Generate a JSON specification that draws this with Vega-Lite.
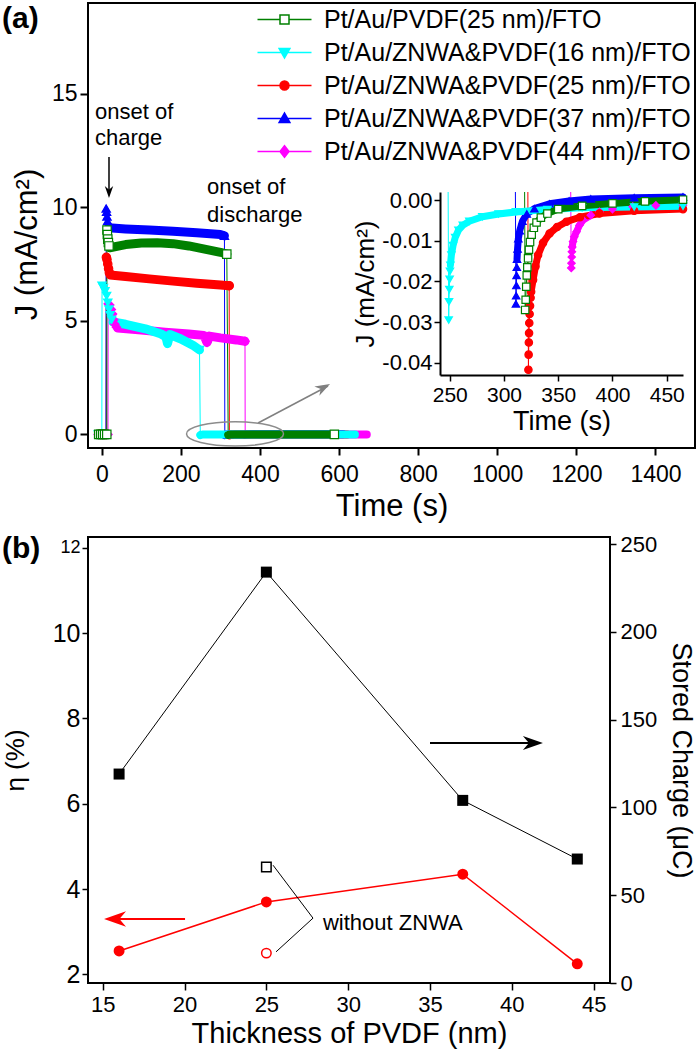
{
"$schema": "https://vega.github.io/schema/vega-lite/v6.json",
"background": "white",
"padding": {"left": 0, "top": 2, "right": 0, "bottom": 2},
"spacing": 89,
"bounds": "flush",
"resolve": {"scale": {"stroke": "independent", "fill": "independent"}, "legend": {"stroke": "independent", "fill": "independent"}},
"datasets": {
"main": [
{"s":"Pt/Au/ZNWA&PVDF(44 nm)/FTO","t":-9,"J":0,"b":0,"m":1},{"s":"Pt/Au/ZNWA&PVDF(44 nm)/FTO","t":-4,"J":0,"b":0,"m":1},{"s":"Pt/Au/ZNWA&PVDF(44 nm)/FTO","t":1,"J":0,"b":0,"m":1},{"s":"Pt/Au/ZNWA&PVDF(44 nm)/FTO","t":6,"J":0,"b":0,"m":1},{"s":"Pt/Au/ZNWA&PVDF(44 nm)/FTO","t":11,"J":0,"b":0,"m":1},{"s":"Pt/Au/ZNWA&PVDF(44 nm)/FTO","t":15.5,"J":0,"b":0,"m":1},
{"s":"Pt/Au/ZNWA&PVDF(44 nm)/FTO","t":16,"J":5.75,"b":0,"m":1},{"s":"Pt/Au/ZNWA&PVDF(44 nm)/FTO","t":20,"J":5.7,"b":0,"m":1},{"s":"Pt/Au/ZNWA&PVDF(44 nm)/FTO","t":24,"J":5.5,"b":0,"m":1},{"s":"Pt/Au/ZNWA&PVDF(44 nm)/FTO","t":27,"J":5.3,"b":0,"m":1},{"s":"Pt/Au/ZNWA&PVDF(44 nm)/FTO","t":30,"J":5.05,"b":0,"m":1},{"s":"Pt/Au/ZNWA&PVDF(44 nm)/FTO","t":33,"J":4.85,"b":0,"m":1},{"s":"Pt/Au/ZNWA&PVDF(44 nm)/FTO","t":37,"J":4.72,"b":0,"m":1},
{"s":"Pt/Au/ZNWA&PVDF(44 nm)/FTO","t":40,"J":4.68,"b":1,"m":0},{"s":"Pt/Au/ZNWA&PVDF(44 nm)/FTO","t":100,"J":4.6,"b":1,"m":0},{"s":"Pt/Au/ZNWA&PVDF(44 nm)/FTO","t":160,"J":4.5,"b":1,"m":0},{"s":"Pt/Au/ZNWA&PVDF(44 nm)/FTO","t":220,"J":4.42,"b":1,"m":0},{"s":"Pt/Au/ZNWA&PVDF(44 nm)/FTO","t":258,"J":4.36,"b":1,"m":0},{"s":"Pt/Au/ZNWA&PVDF(44 nm)/FTO","t":266,"J":4.05,"b":1,"m":1},{"s":"Pt/Au/ZNWA&PVDF(44 nm)/FTO","t":272,"J":4.33,"b":1,"m":0},{"s":"Pt/Au/ZNWA&PVDF(44 nm)/FTO","t":300,"J":4.25,"b":1,"m":0},{"s":"Pt/Au/ZNWA&PVDF(44 nm)/FTO","t":340,"J":4.16,"b":1,"m":0},{"s":"Pt/Au/ZNWA&PVDF(44 nm)/FTO","t":362,"J":4.1,"b":1,"m":1},
{"s":"Pt/Au/ZNWA&PVDF(44 nm)/FTO","t":362.5,"J":-0.0167,"b":0,"m":0},
{"s":"Pt/Au/ZNWA&PVDF(25 nm)/FTO","t":-7,"J":0,"b":0,"m":1},{"s":"Pt/Au/ZNWA&PVDF(25 nm)/FTO","t":-2,"J":0,"b":0,"m":1},{"s":"Pt/Au/ZNWA&PVDF(25 nm)/FTO","t":3,"J":0,"b":0,"m":1},{"s":"Pt/Au/ZNWA&PVDF(25 nm)/FTO","t":8,"J":0,"b":0,"m":1},{"s":"Pt/Au/ZNWA&PVDF(25 nm)/FTO","t":11,"J":0,"b":0,"m":1},
{"s":"Pt/Au/ZNWA&PVDF(25 nm)/FTO","t":11.5,"J":7.8,"b":0,"m":1},{"s":"Pt/Au/ZNWA&PVDF(25 nm)/FTO","t":13,"J":7.7,"b":0,"m":1},{"s":"Pt/Au/ZNWA&PVDF(25 nm)/FTO","t":15,"J":7.5,"b":0,"m":1},{"s":"Pt/Au/ZNWA&PVDF(25 nm)/FTO","t":17,"J":7.3,"b":0,"m":1},{"s":"Pt/Au/ZNWA&PVDF(25 nm)/FTO","t":19,"J":7.12,"b":0,"m":1},
{"s":"Pt/Au/ZNWA&PVDF(25 nm)/FTO","t":21,"J":7.02,"b":1,"m":0},{"s":"Pt/Au/ZNWA&PVDF(25 nm)/FTO","t":60,"J":6.95,"b":1,"m":0},{"s":"Pt/Au/ZNWA&PVDF(25 nm)/FTO","t":120,"J":6.85,"b":1,"m":0},{"s":"Pt/Au/ZNWA&PVDF(25 nm)/FTO","t":180,"J":6.75,"b":1,"m":0},{"s":"Pt/Au/ZNWA&PVDF(25 nm)/FTO","t":240,"J":6.66,"b":1,"m":0},{"s":"Pt/Au/ZNWA&PVDF(25 nm)/FTO","t":300,"J":6.58,"b":1,"m":0},{"s":"Pt/Au/ZNWA&PVDF(25 nm)/FTO","t":322,"J":6.55,"b":1,"m":1},
{"s":"Pt/Au/ZNWA&PVDF(25 nm)/FTO","t":322.5,"J":-0.0417,"b":0,"m":0},
{"s":"Pt/Au/ZNWA&PVDF(37 nm)/FTO","t":-6,"J":0,"b":0,"m":1},{"s":"Pt/Au/ZNWA&PVDF(37 nm)/FTO","t":-1,"J":0,"b":0,"m":1},{"s":"Pt/Au/ZNWA&PVDF(37 nm)/FTO","t":4,"J":0,"b":0,"m":1},{"s":"Pt/Au/ZNWA&PVDF(37 nm)/FTO","t":9,"J":0,"b":0,"m":1},{"s":"Pt/Au/ZNWA&PVDF(37 nm)/FTO","t":10.5,"J":0,"b":0,"m":1},
{"s":"Pt/Au/ZNWA&PVDF(37 nm)/FTO","t":11,"J":9.95,"b":0,"m":1},{"s":"Pt/Au/ZNWA&PVDF(37 nm)/FTO","t":12,"J":9.8,"b":0,"m":1},{"s":"Pt/Au/ZNWA&PVDF(37 nm)/FTO","t":13,"J":9.6,"b":0,"m":1},{"s":"Pt/Au/ZNWA&PVDF(37 nm)/FTO","t":14.5,"J":9.4,"b":0,"m":1},{"s":"Pt/Au/ZNWA&PVDF(37 nm)/FTO","t":16,"J":9.2,"b":0,"m":1},
{"s":"Pt/Au/ZNWA&PVDF(37 nm)/FTO","t":18,"J":9.1,"b":1,"m":0},{"s":"Pt/Au/ZNWA&PVDF(37 nm)/FTO","t":60,"J":9.05,"b":1,"m":0},{"s":"Pt/Au/ZNWA&PVDF(37 nm)/FTO","t":120,"J":9.0,"b":1,"m":0},{"s":"Pt/Au/ZNWA&PVDF(37 nm)/FTO","t":180,"J":8.95,"b":1,"m":0},{"s":"Pt/Au/ZNWA&PVDF(37 nm)/FTO","t":240,"J":8.88,"b":1,"m":0},{"s":"Pt/Au/ZNWA&PVDF(37 nm)/FTO","t":300,"J":8.8,"b":1,"m":0},{"s":"Pt/Au/ZNWA&PVDF(37 nm)/FTO","t":310,"J":8.75,"b":1,"m":1},
{"s":"Pt/Au/ZNWA&PVDF(37 nm)/FTO","t":311,"J":-0.0255,"b":0,"m":0},
{"s":"Pt/Au/ZNWA&PVDF(16 nm)/FTO","t":-9,"J":0,"b":0,"m":1},{"s":"Pt/Au/ZNWA&PVDF(16 nm)/FTO","t":-5,"J":0,"b":0,"m":1},{"s":"Pt/Au/ZNWA&PVDF(16 nm)/FTO","t":-1,"J":0,"b":0,"m":1},{"s":"Pt/Au/ZNWA&PVDF(16 nm)/FTO","t":0,"J":0,"b":0,"m":1},
{"s":"Pt/Au/ZNWA&PVDF(16 nm)/FTO","t":0.5,"J":6.55,"b":0,"m":1},{"s":"Pt/Au/ZNWA&PVDF(16 nm)/FTO","t":4,"J":6.45,"b":0,"m":1},{"s":"Pt/Au/ZNWA&PVDF(16 nm)/FTO","t":8,"J":6.3,"b":0,"m":1},{"s":"Pt/Au/ZNWA&PVDF(16 nm)/FTO","t":12,"J":6.1,"b":0,"m":1},{"s":"Pt/Au/ZNWA&PVDF(16 nm)/FTO","t":15,"J":5.8,"b":0,"m":1},{"s":"Pt/Au/ZNWA&PVDF(16 nm)/FTO","t":18,"J":5.5,"b":0,"m":1},{"s":"Pt/Au/ZNWA&PVDF(16 nm)/FTO","t":21,"J":5.25,"b":0,"m":1},{"s":"Pt/Au/ZNWA&PVDF(16 nm)/FTO","t":25,"J":5.05,"b":0,"m":1},
{"s":"Pt/Au/ZNWA&PVDF(16 nm)/FTO","t":28,"J":4.95,"b":1,"m":0},{"s":"Pt/Au/ZNWA&PVDF(16 nm)/FTO","t":60,"J":4.85,"b":1,"m":0},{"s":"Pt/Au/ZNWA&PVDF(16 nm)/FTO","t":110,"J":4.65,"b":1,"m":0},{"s":"Pt/Au/ZNWA&PVDF(16 nm)/FTO","t":150,"J":4.42,"b":1,"m":0},{"s":"Pt/Au/ZNWA&PVDF(16 nm)/FTO","t":162,"J":4.3,"b":1,"m":0},{"s":"Pt/Au/ZNWA&PVDF(16 nm)/FTO","t":166,"J":4.0,"b":1,"m":1},{"s":"Pt/Au/ZNWA&PVDF(16 nm)/FTO","t":172,"J":4.4,"b":1,"m":0},{"s":"Pt/Au/ZNWA&PVDF(16 nm)/FTO","t":200,"J":4.2,"b":1,"m":0},{"s":"Pt/Au/ZNWA&PVDF(16 nm)/FTO","t":230,"J":3.93,"b":1,"m":0},{"s":"Pt/Au/ZNWA&PVDF(16 nm)/FTO","t":247,"J":3.72,"b":1,"m":1},
{"s":"Pt/Au/ZNWA&PVDF(16 nm)/FTO","t":249,"J":-0.0295,"b":0,"m":0},
{"s":"Pt/Au/PVDF(25 nm)/FTO","t":-8,"J":0,"b":0,"m":1},{"s":"Pt/Au/PVDF(25 nm)/FTO","t":-3,"J":0,"b":0,"m":1},{"s":"Pt/Au/PVDF(25 nm)/FTO","t":2,"J":0,"b":0,"m":1},{"s":"Pt/Au/PVDF(25 nm)/FTO","t":7,"J":0,"b":0,"m":1},{"s":"Pt/Au/PVDF(25 nm)/FTO","t":12.5,"J":0,"b":0,"m":1},
{"s":"Pt/Au/PVDF(25 nm)/FTO","t":13,"J":9.0,"b":0,"m":1},{"s":"Pt/Au/PVDF(25 nm)/FTO","t":14,"J":8.8,"b":0,"m":1},{"s":"Pt/Au/PVDF(25 nm)/FTO","t":15,"J":8.6,"b":0,"m":1},{"s":"Pt/Au/PVDF(25 nm)/FTO","t":16.5,"J":8.45,"b":0,"m":1},{"s":"Pt/Au/PVDF(25 nm)/FTO","t":18,"J":8.3,"b":0,"m":1},
{"s":"Pt/Au/PVDF(25 nm)/FTO","t":20,"J":8.22,"b":1,"m":0},{"s":"Pt/Au/PVDF(25 nm)/FTO","t":60,"J":8.36,"b":1,"m":0},{"s":"Pt/Au/PVDF(25 nm)/FTO","t":100,"J":8.43,"b":1,"m":0},{"s":"Pt/Au/PVDF(25 nm)/FTO","t":140,"J":8.44,"b":1,"m":0},{"s":"Pt/Au/PVDF(25 nm)/FTO","t":180,"J":8.4,"b":1,"m":0},{"s":"Pt/Au/PVDF(25 nm)/FTO","t":220,"J":8.3,"b":1,"m":0},{"s":"Pt/Au/PVDF(25 nm)/FTO","t":260,"J":8.16,"b":1,"m":0},{"s":"Pt/Au/PVDF(25 nm)/FTO","t":300,"J":8.02,"b":1,"m":0},{"s":"Pt/Au/PVDF(25 nm)/FTO","t":316,"J":7.94,"b":1,"m":1},
{"s":"Pt/Au/PVDF(25 nm)/FTO","t":319.5,"J":-0.027,"b":0,"m":0},{"s":"Pt/Au/PVDF(25 nm)/FTO","t":588,"J":0,"b":0,"m":1}
],
"disc": [
{"s":"Pt/Au/ZNWA&PVDF(44 nm)/FTO","t":361.5,"J":0.002,"p":0},{"s":"Pt/Au/ZNWA&PVDF(44 nm)/FTO","t":362,"J":-0.0167,"p":1},{"s":"Pt/Au/ZNWA&PVDF(44 nm)/FTO","t":362.2,"J":-0.0155,"p":1},{"s":"Pt/Au/ZNWA&PVDF(44 nm)/FTO","t":362.4,"J":-0.014,"p":1},{"s":"Pt/Au/ZNWA&PVDF(44 nm)/FTO","t":362.6,"J":-0.0127,"p":1},
{"s":"Pt/Au/ZNWA&PVDF(44 nm)/FTO","t":362.9,"J":-0.0115,"p":2},{"s":"Pt/Au/ZNWA&PVDF(44 nm)/FTO","t":363.6,"J":-0.0102,"p":2},{"s":"Pt/Au/ZNWA&PVDF(44 nm)/FTO","t":364.8,"J":-0.009,"p":2},{"s":"Pt/Au/ZNWA&PVDF(44 nm)/FTO","t":366.8,"J":-0.0078,"p":2},{"s":"Pt/Au/ZNWA&PVDF(44 nm)/FTO","t":369.5,"J":-0.0062,"p":2},{"s":"Pt/Au/ZNWA&PVDF(44 nm)/FTO","t":372.9,"J":-0.0049,"p":2},{"s":"Pt/Au/ZNWA&PVDF(44 nm)/FTO","t":380,"J":-0.0037,"p":2},{"s":"Pt/Au/ZNWA&PVDF(44 nm)/FTO","t":388,"J":-0.0029,"p":2},{"s":"Pt/Au/ZNWA&PVDF(44 nm)/FTO","t":400,"J":-0.0022,"p":2},{"s":"Pt/Au/ZNWA&PVDF(44 nm)/FTO","t":418.7,"J":-0.0016,"p":2},{"s":"Pt/Au/ZNWA&PVDF(44 nm)/FTO","t":440,"J":-0.0013,"p":2},{"s":"Pt/Au/ZNWA&PVDF(44 nm)/FTO","t":465,"J":-0.0012,"p":2},{"s":"Pt/Au/ZNWA&PVDF(44 nm)/FTO","t":670,"J":-0.0008,"p":2},
{"s":"Pt/Au/ZNWA&PVDF(25 nm)/FTO","t":322,"J":0.002,"p":0},{"s":"Pt/Au/ZNWA&PVDF(25 nm)/FTO","t":322.5,"J":-0.0417,"p":1},{"s":"Pt/Au/ZNWA&PVDF(25 nm)/FTO","t":322.7,"J":-0.038,"p":1},{"s":"Pt/Au/ZNWA&PVDF(25 nm)/FTO","t":322.9,"J":-0.035,"p":1},{"s":"Pt/Au/ZNWA&PVDF(25 nm)/FTO","t":323.1,"J":-0.0327,"p":1},{"s":"Pt/Au/ZNWA&PVDF(25 nm)/FTO","t":323.3,"J":-0.0302,"p":1},{"s":"Pt/Au/ZNWA&PVDF(25 nm)/FTO","t":323.6,"J":-0.028,"p":1},{"s":"Pt/Au/ZNWA&PVDF(25 nm)/FTO","t":324,"J":-0.026,"p":1},{"s":"Pt/Au/ZNWA&PVDF(25 nm)/FTO","t":324.5,"J":-0.024,"p":1},
{"s":"Pt/Au/ZNWA&PVDF(25 nm)/FTO","t":325,"J":-0.0225,"p":2},{"s":"Pt/Au/ZNWA&PVDF(25 nm)/FTO","t":326.8,"J":-0.0196,"p":2},{"s":"Pt/Au/ZNWA&PVDF(25 nm)/FTO","t":329,"J":-0.0163,"p":2},{"s":"Pt/Au/ZNWA&PVDF(25 nm)/FTO","t":331.4,"J":-0.0135,"p":2},{"s":"Pt/Au/ZNWA&PVDF(25 nm)/FTO","t":336,"J":-0.0105,"p":2},{"s":"Pt/Au/ZNWA&PVDF(25 nm)/FTO","t":342,"J":-0.0082,"p":2},{"s":"Pt/Au/ZNWA&PVDF(25 nm)/FTO","t":349,"J":-0.0066,"p":2},{"s":"Pt/Au/ZNWA&PVDF(25 nm)/FTO","t":357.5,"J":-0.0053,"p":2},{"s":"Pt/Au/ZNWA&PVDF(25 nm)/FTO","t":370,"J":-0.0042,"p":2},{"s":"Pt/Au/ZNWA&PVDF(25 nm)/FTO","t":388,"J":-0.0033,"p":2},{"s":"Pt/Au/ZNWA&PVDF(25 nm)/FTO","t":420,"J":-0.0026,"p":2},{"s":"Pt/Au/ZNWA&PVDF(25 nm)/FTO","t":465,"J":-0.0022,"p":2},{"s":"Pt/Au/ZNWA&PVDF(25 nm)/FTO","t":620,"J":-0.0015,"p":2},
{"s":"Pt/Au/ZNWA&PVDF(37 nm)/FTO","t":310.5,"J":0.002,"p":0},{"s":"Pt/Au/ZNWA&PVDF(37 nm)/FTO","t":311,"J":-0.0255,"p":1},{"s":"Pt/Au/ZNWA&PVDF(37 nm)/FTO","t":311.2,"J":-0.0235,"p":1},{"s":"Pt/Au/ZNWA&PVDF(37 nm)/FTO","t":311.4,"J":-0.021,"p":1},{"s":"Pt/Au/ZNWA&PVDF(37 nm)/FTO","t":311.6,"J":-0.0185,"p":1},{"s":"Pt/Au/ZNWA&PVDF(37 nm)/FTO","t":311.8,"J":-0.0165,"p":1},
{"s":"Pt/Au/ZNWA&PVDF(37 nm)/FTO","t":312,"J":-0.0145,"p":2},{"s":"Pt/Au/ZNWA&PVDF(37 nm)/FTO","t":312.5,"J":-0.012,"p":2},{"s":"Pt/Au/ZNWA&PVDF(37 nm)/FTO","t":313.2,"J":-0.0095,"p":2},{"s":"Pt/Au/ZNWA&PVDF(37 nm)/FTO","t":314.5,"J":-0.0075,"p":2},{"s":"Pt/Au/ZNWA&PVDF(37 nm)/FTO","t":317,"J":-0.0052,"p":2},{"s":"Pt/Au/ZNWA&PVDF(37 nm)/FTO","t":321,"J":-0.0034,"p":2},{"s":"Pt/Au/ZNWA&PVDF(37 nm)/FTO","t":328,"J":-0.0021,"p":2},{"s":"Pt/Au/ZNWA&PVDF(37 nm)/FTO","t":342,"J":-0.0009,"p":2},{"s":"Pt/Au/ZNWA&PVDF(37 nm)/FTO","t":360,"J":-0.0002,"p":2},{"s":"Pt/Au/ZNWA&PVDF(37 nm)/FTO","t":380,"J":0.0003,"p":2},{"s":"Pt/Au/ZNWA&PVDF(37 nm)/FTO","t":420,"J":0.0006,"p":2},{"s":"Pt/Au/ZNWA&PVDF(37 nm)/FTO","t":465,"J":0.0008,"p":2},{"s":"Pt/Au/ZNWA&PVDF(37 nm)/FTO","t":610,"J":0.0008,"p":2},
{"s":"Pt/Au/ZNWA&PVDF(16 nm)/FTO","t":248.5,"J":0.002,"p":0},{"s":"Pt/Au/ZNWA&PVDF(16 nm)/FTO","t":249,"J":-0.0295,"p":1},{"s":"Pt/Au/ZNWA&PVDF(16 nm)/FTO","t":249.3,"J":-0.025,"p":1},{"s":"Pt/Au/ZNWA&PVDF(16 nm)/FTO","t":249.6,"J":-0.022,"p":1},{"s":"Pt/Au/ZNWA&PVDF(16 nm)/FTO","t":249.9,"J":-0.0195,"p":1},{"s":"Pt/Au/ZNWA&PVDF(16 nm)/FTO","t":250.2,"J":-0.0175,"p":1},
{"s":"Pt/Au/ZNWA&PVDF(16 nm)/FTO","t":250.6,"J":-0.016,"p":2},{"s":"Pt/Au/ZNWA&PVDF(16 nm)/FTO","t":251.5,"J":-0.0135,"p":2},{"s":"Pt/Au/ZNWA&PVDF(16 nm)/FTO","t":253,"J":-0.0112,"p":2},{"s":"Pt/Au/ZNWA&PVDF(16 nm)/FTO","t":255,"J":-0.0092,"p":2},{"s":"Pt/Au/ZNWA&PVDF(16 nm)/FTO","t":258,"J":-0.0074,"p":2},{"s":"Pt/Au/ZNWA&PVDF(16 nm)/FTO","t":262,"J":-0.0062,"p":2},{"s":"Pt/Au/ZNWA&PVDF(16 nm)/FTO","t":268,"J":-0.0052,"p":2},{"s":"Pt/Au/ZNWA&PVDF(16 nm)/FTO","t":280,"J":-0.0041,"p":2},{"s":"Pt/Au/ZNWA&PVDF(16 nm)/FTO","t":295,"J":-0.0034,"p":2},{"s":"Pt/Au/ZNWA&PVDF(16 nm)/FTO","t":311,"J":-0.0029,"p":2},{"s":"Pt/Au/ZNWA&PVDF(16 nm)/FTO","t":340,"J":-0.0023,"p":2},{"s":"Pt/Au/ZNWA&PVDF(16 nm)/FTO","t":372,"J":-0.0019,"p":2},{"s":"Pt/Au/ZNWA&PVDF(16 nm)/FTO","t":420,"J":-0.0017,"p":2},{"s":"Pt/Au/ZNWA&PVDF(16 nm)/FTO","t":465,"J":-0.0015,"p":2},{"s":"Pt/Au/ZNWA&PVDF(16 nm)/FTO","t":640,"J":-0.001,"p":2},
{"s":"Pt/Au/PVDF(25 nm)/FTO","t":319,"J":0.002,"p":0},{"s":"Pt/Au/PVDF(25 nm)/FTO","t":319.5,"J":-0.027,"p":1},{"s":"Pt/Au/PVDF(25 nm)/FTO","t":320,"J":-0.0245,"p":1},{"s":"Pt/Au/PVDF(25 nm)/FTO","t":320.5,"J":-0.0213,"p":1},{"s":"Pt/Au/PVDF(25 nm)/FTO","t":321,"J":-0.0185,"p":1},{"s":"Pt/Au/PVDF(25 nm)/FTO","t":321.5,"J":-0.0165,"p":1},
{"s":"Pt/Au/PVDF(25 nm)/FTO","t":322.2,"J":-0.0143,"p":2},{"s":"Pt/Au/PVDF(25 nm)/FTO","t":323,"J":-0.0122,"p":2},{"s":"Pt/Au/PVDF(25 nm)/FTO","t":324,"J":-0.0103,"p":2},{"s":"Pt/Au/PVDF(25 nm)/FTO","t":325.5,"J":-0.0085,"p":2},{"s":"Pt/Au/PVDF(25 nm)/FTO","t":327.5,"J":-0.0068,"p":2},{"s":"Pt/Au/PVDF(25 nm)/FTO","t":330,"J":-0.0055,"p":2},{"s":"Pt/Au/PVDF(25 nm)/FTO","t":334,"J":-0.0043,"p":2},{"s":"Pt/Au/PVDF(25 nm)/FTO","t":340,"J":-0.0033,"p":2},{"s":"Pt/Au/PVDF(25 nm)/FTO","t":350,"J":-0.0022,"p":2},{"s":"Pt/Au/PVDF(25 nm)/FTO","t":372,"J":-0.0014,"p":2},{"s":"Pt/Au/PVDF(25 nm)/FTO","t":400,"J":-0.0008,"p":2},{"s":"Pt/Au/PVDF(25 nm)/FTO","t":430,"J":-0.0003,"p":2},{"s":"Pt/Au/PVDF(25 nm)/FTO","t":465,"J":0.0001,"p":2},{"s":"Pt/Au/PVDF(25 nm)/FTO","t":588,"J":0,"p":2}
],
"eta": [{"d":16,"eta":2.55},{"d":25,"eta":3.7},{"d":37,"eta":4.35},{"d":44,"eta":2.25}],
"charge": [{"d":16,"q":119},{"d":25,"q":234},{"d":37,"q":104},{"d":44,"q":70.6}]
},
"vconcat": [
{
"width": 607, "height": 445,
"resolve": {"scale": {"x": "independent", "y": "independent"}, "axis": {"x": "independent", "y": "independent"}},
"layer": [
{
"encoding": {
  "x": {"field": "t", "type": "quantitative", "scale": {"domain": [-35, 1500], "nice": false, "zero": false},
        "axis": {"title": "Time (s)", "values": [0,200,400,600,800,1000,1200,1400], "format": "d", "labelFontSize": 23, "titleFontSize": 31, "tickSize": 7, "tickWidth": 2, "domain": false, "labelPadding": 8, "titlePadding": 5, "labelFlush": false, "labelOverlap": false}},
  "y": {"field": "J", "type": "quantitative", "scale": {"domain": [-0.6, 19], "nice": false, "zero": false},
        "axis": {"title": "J (mA/cm²)", "values": [0,5,10,15], "labelFontSize": 23, "titleFontSize": 31, "tickSize": 8, "tickWidth": 2, "domain": false, "labelPadding": 3, "titlePadding": 8, "titleY": 241, "labelFlush": false}}
},
"layer": [
{"data": {"name": "main"}, "mark": {"type": "line", "strokeWidth": 1},
 "encoding": {
  "stroke": {"field": "s", "type": "nominal", "scale": {"domain": ["Pt/Au/PVDF(25 nm)/FTO","Pt/Au/ZNWA&PVDF(16 nm)/FTO","Pt/Au/ZNWA&PVDF(25 nm)/FTO","Pt/Au/ZNWA&PVDF(37 nm)/FTO","Pt/Au/ZNWA&PVDF(44 nm)/FTO"], "range": ["#008000","#00FFFF","#FF0000","#0000FF","#FF00FF"]}}
 }},
{"data": {"name": "main"}, "transform": [{"filter": "datum.b == 1"}], "mark": {"type": "line", "strokeWidth": 9, "strokeCap": "round", "strokeJoin": "round"},
 "encoding": {
  "stroke": {"field": "s", "type": "nominal", "scale": {"domain": ["Pt/Au/PVDF(25 nm)/FTO","Pt/Au/ZNWA&PVDF(16 nm)/FTO","Pt/Au/ZNWA&PVDF(25 nm)/FTO","Pt/Au/ZNWA&PVDF(37 nm)/FTO","Pt/Au/ZNWA&PVDF(44 nm)/FTO"], "range": ["#008000","#00FFFF","#FF0000","#0000FF","#FF00FF"]}}
 }},
{"data": {"name": "disc"}, "transform": [{"filter": "datum.p >= 1"}], "mark": {"type": "line", "strokeWidth": 8, "strokeCap": "round", "strokeJoin": "round"},
 "encoding": {
  "stroke": {"field": "s", "type": "nominal", "scale": {"domain": ["Pt/Au/PVDF(25 nm)/FTO","Pt/Au/ZNWA&PVDF(16 nm)/FTO","Pt/Au/ZNWA&PVDF(25 nm)/FTO","Pt/Au/ZNWA&PVDF(37 nm)/FTO","Pt/Au/ZNWA&PVDF(44 nm)/FTO"], "range": ["#008000","#00FFFF","#FF0000","#0000FF","#FF00FF"]}}
 }},
{"data": {"name": "main"}, "transform": [{"filter": "datum.m == 1"}], "mark": {"type": "point", "size": 70, "strokeWidth": 1.2, "opacity": 1},
 "encoding": {
  "stroke": {"field": "s", "type": "nominal", "scale": {"domain": ["Pt/Au/PVDF(25 nm)/FTO","Pt/Au/ZNWA&PVDF(16 nm)/FTO","Pt/Au/ZNWA&PVDF(25 nm)/FTO","Pt/Au/ZNWA&PVDF(37 nm)/FTO","Pt/Au/ZNWA&PVDF(44 nm)/FTO"], "range": ["#008000","#00FFFF","#FF0000","#0000FF","#FF00FF"]},
    "legend": {"title": null, "orient": "top-right", "direction": "vertical", "columns": 1, "offset": 4, "padding": 0, "labelFontSize": 25, "labelColor": "#000", "labelFont": "Liberation Sans", "labelLimit": 600, "labelAlign": "left", "symbolSize": 81, "symbolStrokeWidth": 1.5, "symbolOpacity": 1, "symbolOffset": 22, "labelOffset": 27, "rowPadding": 7,
      "symbolType": {"expr": "datum.index === 0 ? 'M-6,0H-1M1,0H6M-1,-1H1V1H-1Z' : datum.index === 1 ? 'M-6,0H6M-1.2,-0.9H1.2L0,1.2Z' : datum.index === 2 ? 'M-6,0H6M1,0A1,1 0 1,1 -1,0A1,1 0 1,1 1,0Z' : datum.index === 3 ? 'M-6,0H6M-1.2,0.9H1.2L0,-1.2Z' : 'M-6,0H6M0,-1.3L1,0L0,1.3L-1,0Z'"}}},
  "fill": {"field": "s", "type": "nominal", "scale": {"domain": ["Pt/Au/PVDF(25 nm)/FTO","Pt/Au/ZNWA&PVDF(16 nm)/FTO","Pt/Au/ZNWA&PVDF(25 nm)/FTO","Pt/Au/ZNWA&PVDF(37 nm)/FTO","Pt/Au/ZNWA&PVDF(44 nm)/FTO"], "range": ["#FFFFFF","#00FFFF","#FF0000","#0000FF","#FF00FF"]}},
  "shape": {"condition": [{"test": "datum.s === 'Pt/Au/PVDF(25 nm)/FTO'", "value": "square"}, {"test": "datum.s === 'Pt/Au/ZNWA&PVDF(16 nm)/FTO'", "value": "triangle-down"}, {"test": "datum.s === 'Pt/Au/ZNWA&PVDF(25 nm)/FTO'", "value": "circle"}, {"test": "datum.s === 'Pt/Au/ZNWA&PVDF(37 nm)/FTO'", "value": "triangle-up"}], "value": "diamond"}
 }},
{"data": {"values": [{"txt": "onset of", "t": -17.3, "J": 14.2}, {"txt": "charge", "t": -17.3, "J": 13.06}, {"txt": "onset of", "t": 266, "J": 10.9}, {"txt": "discharge", "t": 266, "J": 9.66}]},
 "mark": {"type": "text", "align": "left", "baseline": "middle", "fontSize": 22, "fill": "#000"},
 "encoding": {"text": {"field": "txt"}}},
{"data": {"values": [{"txt": "(a)", "t": -252.5, "J": 18.3}]},
 "mark": {"type": "text", "align": "left", "baseline": "middle", "fontSize": 30, "fontWeight": "bold", "fill": "#000"},
 "encoding": {"text": {"field": "txt"}}},
{"data": {"values": [{"t": 18.1, "J": 12.22, "t2": 18.1, "J2": 10.6}]},
 "mark": {"type": "rule", "strokeWidth": 1.5, "color": "#000"},
 "encoding": {"x2": {"field": "t2"}, "y2": {"field": "J2"}}},
{"data": {"values": [{"t": 395, "J": 0.5, "t2": 572, "J2": 2.13}]},
 "mark": {"type": "rule", "strokeWidth": 1.5, "color": "#808080"},
 "encoding": {"x2": {"field": "t2"}, "y2": {"field": "J2"}}},
{"data": {"values": [{"t": 18.1, "J": 10.41}]},
 "mark": {"type": "point", "shape": "M0,0L-1,-0.35L-0.7,0L-1,0.35Z", "size": 576, "angle": 90, "filled": true, "color": "#000", "opacity": 1, "strokeWidth": 0}},
{"data": {"values": [{"t": 577, "J": 2.22}]},
 "mark": {"type": "point", "shape": "M0,0L-1,-0.35L-0.7,0L-1,0.35Z", "size": 900, "angle": -28.4, "filled": true, "color": "#808080", "opacity": 1, "strokeWidth": 0}},
{"data": {"values": [{"t": 336.8, "J": 0.02}]},
 "mark": {"type": "point", "shape": "M-1,0A1,0.25 0 1,1 1,0A1,0.25 0 1,1 -1,0Z", "size": 9409, "filled": false, "color": "#8c8c8c", "opacity": 1, "strokeWidth": 1.5}}
]},
{
"encoding": {
  "x": {"field": "t", "type": "quantitative", "scale": {"domain": [241, 465], "range": [352, 595], "nice": false, "zero": false},
        "axis": {"orient": "bottom", "offset": -73, "title": "Time (s)", "values": [250,300,350,400,450], "labelFontSize": 21, "titleFontSize": 27, "tickSize": 6, "tickWidth": 1.5, "domain": true, "domainWidth": 2, "labelPadding": 3, "titlePadding": 3, "labelFlush": false}},
  "y": {"field": "J", "type": "quantitative", "scale": {"domain": [-0.043, 0.002], "range": [372, 189], "nice": false, "zero": false},
        "axis": {"orient": "left", "offset": -352, "title": "J (mA/cm²)", "values": [0,-0.01,-0.02,-0.03,-0.04], "labelExpr": "replace(format(datum.value, '.2f'), '\u2212', '-')", "labelFontSize": 22, "titleFontSize": 26, "tickSize": 6, "tickWidth": 1.5, "domain": true, "domainWidth": 2, "labelPadding": 2, "titlePadding": 3, "labelFlush": false}}
},
"layer": [
{"data": {"name": "disc"}, "transform": [{"filter": "datum.t <= 466"}], "mark": {"type": "line", "strokeWidth": 1},
 "encoding": {
  "stroke": {"field": "s", "type": "nominal", "scale": {"domain": ["Pt/Au/PVDF(25 nm)/FTO","Pt/Au/ZNWA&PVDF(16 nm)/FTO","Pt/Au/ZNWA&PVDF(25 nm)/FTO","Pt/Au/ZNWA&PVDF(37 nm)/FTO","Pt/Au/ZNWA&PVDF(44 nm)/FTO"], "range": ["#008000","#00FFFF","#FF0000","#0000FF","#FF00FF"]}}
 }},
{"data": {"name": "disc"}, "transform": [{"filter": "datum.t <= 466 && datum.p == 2"}], "mark": {"type": "line", "strokeWidth": 7, "strokeCap": "round", "strokeJoin": "round"},
 "encoding": {
  "stroke": {"field": "s", "type": "nominal", "scale": {"domain": ["Pt/Au/PVDF(25 nm)/FTO","Pt/Au/ZNWA&PVDF(16 nm)/FTO","Pt/Au/ZNWA&PVDF(25 nm)/FTO","Pt/Au/ZNWA&PVDF(37 nm)/FTO","Pt/Au/ZNWA&PVDF(44 nm)/FTO"], "range": ["#008000","#00FFFF","#FF0000","#0000FF","#FF00FF"]}}
 }},
{"data": {"name": "disc"}, "transform": [{"filter": "datum.t <= 466 && datum.p >= 1"}], "mark": {"type": "point", "size": 55, "strokeWidth": 1.2, "opacity": 1},
 "encoding": {
  "stroke": {"field": "s", "type": "nominal", "scale": {"domain": ["Pt/Au/PVDF(25 nm)/FTO","Pt/Au/ZNWA&PVDF(16 nm)/FTO","Pt/Au/ZNWA&PVDF(25 nm)/FTO","Pt/Au/ZNWA&PVDF(37 nm)/FTO","Pt/Au/ZNWA&PVDF(44 nm)/FTO"], "range": ["#008000","#00FFFF","#FF0000","#0000FF","#FF00FF"]}},
  "fill": {"field": "s", "type": "nominal", "scale": {"domain": ["Pt/Au/PVDF(25 nm)/FTO","Pt/Au/ZNWA&PVDF(16 nm)/FTO","Pt/Au/ZNWA&PVDF(25 nm)/FTO","Pt/Au/ZNWA&PVDF(37 nm)/FTO","Pt/Au/ZNWA&PVDF(44 nm)/FTO"], "range": ["#FFFFFF","#00FFFF","#FF0000","#0000FF","#FF00FF"]}},
  "shape": {"condition": [{"test": "datum.s === 'Pt/Au/PVDF(25 nm)/FTO'", "value": "square"}, {"test": "datum.s === 'Pt/Au/ZNWA&PVDF(16 nm)/FTO'", "value": "triangle-down"}, {"test": "datum.s === 'Pt/Au/ZNWA&PVDF(25 nm)/FTO'", "value": "circle"}, {"test": "datum.s === 'Pt/Au/ZNWA&PVDF(37 nm)/FTO'", "value": "triangle-up"}], "value": "diamond"}
 }}
]}
]
},
{
"width": 522, "height": 446,
"resolve": {"scale": {"y": "independent"}, "axis": {"y": "independent"}},
"encoding": {
  "x": {"field": "d", "type": "quantitative", "scale": {"domain": [14.1, 46], "nice": false, "zero": false},
        "axis": {"title": "Thickness of PVDF (nm)", "values": [15,20,25,30,35,40,45], "labelFontSize": 22, "titleFontSize": 29, "tickSize": 7, "tickWidth": 1.5, "domain": false, "labelPadding": 4, "titlePadding": 4, "labelFlush": false}}
},
"layer": [
{
"encoding": {
  "y": {"field": "eta", "type": "quantitative", "scale": {"domain": [1.8, 12.25], "nice": false, "zero": false},
        "axis": {"title": "η (%)", "values": [2,4,6,8,10,12], "labelFontSize": {"condition": {"test": "datum.value == 12", "value": 18}, "value": 25}, "titleFontSize": 26, "tickSize": 6, "tickWidth": 1.5, "domain": false, "labelPadding": 2, "titlePadding": 24, "labelFlush": false}}
},
"layer": [
{"data": {"name": "eta"}, "mark": {"type": "line", "color": "#FF0000", "strokeWidth": 1.5}},
{"data": {"name": "eta"}, "mark": {"type": "point", "shape": "circle", "filled": true, "color": "#FF0000", "size": 120, "opacity": 1}},
{"data": {"values": [{"d": 25, "eta": 2.5}]}, "mark": {"type": "point", "shape": "circle", "filled": false, "color": "#FF0000", "strokeWidth": 1.5, "size": 90, "opacity": 1}},
{"data": {"values": [{"d": 20.03, "eta": 3.3, "d2": 15.4, "eta2": 3.3}]}, "mark": {"type": "rule", "color": "#FF0000", "strokeWidth": 2},
 "encoding": {"x2": {"field": "d2"}, "y2": {"field": "eta2"}}},
{"data": {"values": [{"d": 15.08, "eta": 3.3}]}, "mark": {"type": "point", "shape": "M0,0L-1,-0.35L-0.7,0L-1,0.35Z", "size": 1936, "angle": 180, "filled": true, "color": "#FF0000", "opacity": 1, "strokeWidth": 0}},
{"data": {"values": [{"d": 25.41, "eta": 4.56, "d2": 27.85, "eta2": 3.32}, {"d": 27.85, "eta": 3.32, "d2": 25.59, "eta2": 2.53}]}, "mark": {"type": "rule", "color": "#000", "strokeWidth": 1},
 "encoding": {"x2": {"field": "d2"}, "y2": {"field": "eta2"}}},
{"data": {"values": [{"txt": "without ZNWA", "d": 28.46, "eta": 3.2}]}, "mark": {"type": "text", "align": "left", "baseline": "middle", "fontSize": 22, "fill": "#000"},
 "encoding": {"text": {"field": "txt"}}},
{"data": {"values": [{"txt": "(b)", "d": 8.84, "eta": 11.97}]}, "mark": {"type": "text", "align": "left", "baseline": "middle", "fontSize": 30, "fontWeight": "bold", "fill": "#000"},
 "encoding": {"text": {"field": "txt"}}}
]},
{
"encoding": {
  "y": {"field": "q", "type": "quantitative", "scale": {"domain": [0, 254], "nice": false, "zero": false},
        "axis": {"orient": "right", "title": "Stored Charge (μC)", "values": [0,50,100,150,200,250], "labelFontSize": 22, "titleFontSize": 27, "tickSize": 6, "tickWidth": 1.5, "domain": false, "labelPadding": 4, "titlePadding": 10, "labelFlush": false}}
},
"layer": [
{"data": {"name": "charge"}, "mark": {"type": "line", "color": "#000", "strokeWidth": 1}},
{"data": {"name": "charge"}, "mark": {"type": "point", "shape": "square", "filled": true, "color": "#000", "size": 121, "opacity": 1}},
{"data": {"values": [{"d": 25, "q": 66}]}, "mark": {"type": "point", "shape": "square", "filled": false, "color": "#000", "strokeWidth": 1.5, "size": 90, "opacity": 1}},
{"data": {"values": [{"d": 35.0, "q": 136.7, "d2": 41.5, "q2": 136.7}]}, "mark": {"type": "rule", "color": "#000", "strokeWidth": 2},
 "encoding": {"x2": {"field": "d2"}, "y2": {"field": "q2"}}},
{"data": {"values": [{"d": 41.9, "q": 136.7}]}, "mark": {"type": "point", "shape": "M0,0L-1,-0.35L-0.7,0L-1,0.35Z", "size": 1600, "angle": 0, "filled": true, "color": "#000", "opacity": 1, "strokeWidth": 0}}
]}
]
}
],
"config": {
 "font": "Liberation Sans",
 "view": {"stroke": "#000000", "strokeWidth": 2},
 "axis": {"grid": false, "labelColor": "#000", "titleColor": "#000", "tickColor": "#000", "domainColor": "#000", "labelFont": "Liberation Sans", "titleFont": "Liberation Sans", "titleFontWeight": "normal"},
 "text": {"font": "Liberation Sans"}
}
}
